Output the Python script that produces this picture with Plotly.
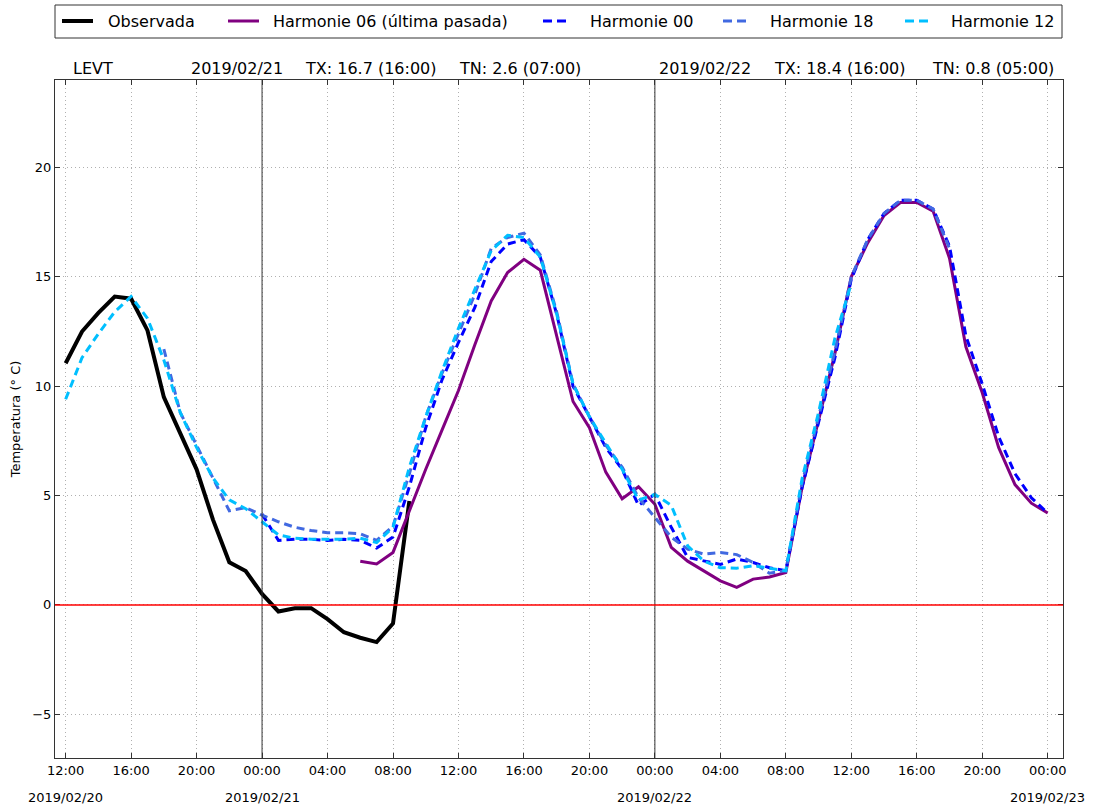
import pandas as pd
import plotly.graph_objects as go

# ---------------- data ----------------
obs_start = "2019-02-20 12:00"
obs_values = [11.05, 12.5, 13.35, 14.1, 14.0, 12.55, 9.5, 7.85, 6.2, 3.9, 1.95, 1.55,
              0.5, -0.3, -0.15, -0.15, -0.65, -1.25, -1.5, -1.7, -0.85, 4.75]

h06_start = "2019-02-21 06:00"
h06_values = [2.0, 1.87, 2.4, 4.3, 6.2, 8.0, 9.8, 11.9, 13.9, 15.2, 15.8, 15.3,
              12.3, 9.3, 8.1, 6.07, 4.85, 5.4,
              4.6, 2.63, 2.0, 1.56, 1.1, 0.8, 1.18, 1.28, 1.48, 5.4, 8.4, 11.5,
              15.0, 16.55, 17.8, 18.4, 18.4, 18.0, 15.85, 11.8, 9.7, 7.2, 5.5, 4.65,
              4.2]

h00_start = "2019-02-21 00:00"
h00_values = [4.15, 2.95, 3.0, 3.0, 2.95, 3.0, 2.95, 2.6, 3.1, 5.4, 8.1, 10.3,
              12.0, 13.6, 15.7, 16.5, 16.7, 15.9, 13.3, 10.0, 8.6, 7.2, 6.2, 4.55,
              5.05, 3.55, 2.17, 2.0, 1.85, 2.1, 1.94, 1.7, 1.56, 5.4, 8.4, 11.3,
              14.9, 16.7, 17.9, 18.5, 18.5, 18.1, 16.4, 12.3, 10.1, 7.7, 6.0, 4.9,
              4.2]

h18_start = "2019-02-20 18:00"
h18_values = [11.7, 8.8, 7.3, 5.8, 4.3, 4.45,
              4.1, 3.8, 3.55, 3.4, 3.3, 3.3, 3.25, 2.95, 3.6, 6.0, 8.6, 10.6,
              12.4, 14.2, 16.3, 16.8, 17.0, 16.0, 13.4, 10.1, 8.6, 7.3, 6.3, 4.9,
              4.0, 3.1, 2.55, 2.32, 2.4, 2.3, 1.94, 1.45, 1.56, 5.6, 8.6, 11.6,
              15.0, 16.7, 17.9, 18.5, 18.5, 18.1, 16.3]

h12_start = "2019-02-20 12:00"
h12_values = [9.4, 11.3, 12.4, 13.4, 14.1, 13.1, 11.2, 8.8, 7.2, 5.8, 4.8, 4.4,
              3.8, 3.2, 3.05, 3.0, 3.0, 3.0, 3.05, 2.85, 3.55, 6.3, 8.6, 10.7,
              12.65, 14.4, 16.2, 16.9, 16.8, 15.9, 13.3, 10.1, 8.6, 7.4, 6.2, 4.8,
              5.05, 4.55, 2.7, 2.0, 1.7, 1.68, 1.79, 1.68, 1.56, 5.8, 8.8, 12.2,
              14.7]

series_names = ["Observada", "Harmonie 06 (última pasada)", "Harmonie 00",
                "Harmonie 18", "Harmonie 12"]

hour_ticks = pd.date_range("2019-02-20 12:00", "2019-02-23 00:00", freq="4h")
hour_labels = [t.strftime("%H:%M") for t in hour_ticks]
date_ticks = ["2019-02-20 12:00", "2019-02-21 00:00", "2019-02-22 00:00", "2019-02-23 00:00"]
date_labels = ["2019/02/20", "2019/02/21", "2019/02/22", "2019/02/23"]
day_lines = ["2019-02-21 00:00", "2019-02-22 00:00"]
y_ticks = [-5, 0, 5, 10, 15, 20]

station = "LEVT"
day_info = [("2019/02/21", "TX: 16.7 (16:00)", "TN: 2.6 (07:00)"),
            ("2019/02/22", "TX: 18.4 (16:00)", "TN: 0.8 (05:00)")]

# ---------------- layout geometry ----------------
W, H = 1105, 808
L, R, T, B = 55, 1063, 80, 758


def px(xp):
    return (xp - L) / (R - L)


def py(yp):
    return (B - yp) / (B - T)


def hours(start, n):
    return pd.date_range(start, periods=n, freq="h")


FONT = "DejaVu Sans"
styles = [
    dict(color="black", width=4, dash="solid"),
    dict(color="#800080", width=3, dash="solid"),
    dict(color="#0000ff", width=3, dash="8px,5px"),
    dict(color="#4169e1", width=3, dash="8px,5px"),
    dict(color="#00bfff", width=3, dash="8px,5px"),
]
data = [(obs_start, obs_values), (h06_start, h06_values), (h00_start, h00_values),
        (h18_start, h18_values), (h12_start, h12_values)]

fig = go.Figure()
for name, (start, vals), st in zip(series_names, data, styles):
    fig.add_trace(go.Scatter(x=hours(start, len(vals)), y=vals, mode="lines", name=name,
                             line=st, showlegend=False))

shapes = []
# day separator lines
for d in day_lines:
    shapes.append(dict(type="line", xref="x", yref="paper", x0=d, x1=d, y0=0, y1=1,
                       line=dict(color="#333333", width=1)))
# zero line
shapes.append(dict(type="line", xref="paper", yref="y", x0=0, x1=1, y0=0, y1=0,
                   line=dict(color="red", width=1.5)))

# custom legend (matplotlib style, expanded)
shapes.append(dict(type="rect", xref="paper", yref="paper", x0=px(55), x1=px(1062),
                   y0=py(38), y1=py(5), line=dict(color="#333333", width=1),
                   fillcolor="white"))
leg_samples = [(62, 93), (228, 259), (543, 574), (723, 754), (905, 936)]
leg_text_x = [106, 271, 588, 768, 949]
annotations = []
for (x0, x1), tx, name, st in zip(leg_samples, leg_text_x, series_names, styles):
    if st["dash"] == "solid":
        shapes.append(dict(type="line", xref="paper", yref="paper", x0=px(x0), x1=px(x1),
                           y0=py(21), y1=py(21), line=dict(color=st["color"], width=st["width"])))
    else:
        for a, b in [(x0, x0 + 9), (x0 + 14, x0 + 23)]:
            shapes.append(dict(type="line", xref="paper", yref="paper", x0=px(a), x1=px(b),
                               y0=py(21), y1=py(21),
                               line=dict(color=st["color"], width=st["width"])))
    annotations.append(dict(xref="paper", yref="paper", x=px(tx), y=py(21), text=name,
                            showarrow=False, xanchor="left", yanchor="middle",
                            font=dict(size=16, family=FONT, color="black")))

# station / day info above the plot
annotations.append(dict(xref="paper", yref="paper", x=px(71), y=py(69), text=station,
                        showarrow=False, xanchor="left", yanchor="middle",
                        font=dict(size=16, family=FONT, color="black")))
info_x = [(189, 303, 457), (657, 772, 930)]
for (d, tx, tn), xs in zip(day_info, info_x):
    for txt, xx in zip((d, tx, tn), xs):
        annotations.append(dict(xref="paper", yref="paper", x=px(xx), y=py(69), text=txt,
                                showarrow=False, xanchor="left", yanchor="middle",
                                font=dict(size=16, family=FONT, color="black")))

# date labels under the axis
for dt, lab in zip(date_ticks, date_labels):
    annotations.append(dict(xref="x", yref="paper", x=dt, y=py(797), text=lab,
                            showarrow=False, xanchor="center", yanchor="middle",
                            font=dict(size=13, family=FONT, color="black")))

axis_common = dict(showline=True, linecolor="#333333", linewidth=1, mirror="allticks",
                   ticks="inside", ticklen=5, tickcolor="#333333", showgrid=True,
                   gridcolor="#b0b0b0", griddash="1px,3px", gridwidth=1, zeroline=False,
                   tickfont=dict(size=13, family=FONT, color="black"))

fig.update_layout(
    width=W, height=H,
    margin=dict(l=L, r=W - R, t=T, b=H - B),
    paper_bgcolor="white", plot_bgcolor="white",
    showlegend=False,
    shapes=shapes, annotations=annotations,
    xaxis=dict(range=["2019-02-20 11:21", "2019-02-23 00:56"], tickmode="array",
               tickvals=list(hour_ticks), ticktext=hour_labels, **axis_common),
    yaxis=dict(range=[-7, 24], tickmode="array", tickvals=y_ticks,
               ticktext=[("\u2212" + str(-v)) if v < 0 else str(v) for v in y_ticks],
               title=dict(text="Temperatura (° C)", standoff=8,
                          font=dict(size=13, family=FONT, color="black")),
               **axis_common),
    font=dict(family=FONT),
)

fig.write_html("out.html", config={"displayModeBar": False},
               post_script="document.body.style.margin='0';document.body.style.overflow='hidden';")
